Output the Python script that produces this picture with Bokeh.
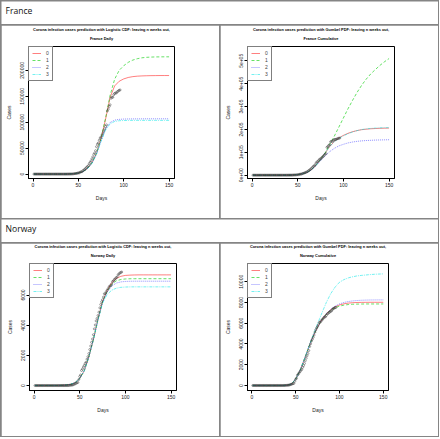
from bokeh.plotting import figure
from bokeh.layouts import column, row
from bokeh.models import Range1d, FixedTicker, Legend, LegendItem, Title, Label
from bokeh.embed import file_html
from bokeh.resources import INLINE

# ---------------- data ----------------
series_names = ["0", "1", "2", "3"]
x_ticks = [0, 50, 100, 150]
x_labels = ["0", "50", "100", "150"]

curve_days = [1, 5, 10, 15, 20, 25, 30, 35, 40, 45, 50, 55, 60, 65, 70, 75, 80,
              85, 90, 95, 100, 105, 110, 115, 120, 125, 130, 135, 140, 145, 150]
obs_days = list(range(1, 97))

france_obs = [0, 0, 2, 3, 3, 3, 4, 5, 5, 5,
              6, 6, 6, 6, 6, 6, 6, 11, 11, 11,
              11, 11, 11, 11, 12, 12, 12, 12, 12, 12,
              12, 12, 12, 12, 12, 18, 38, 57, 100, 130,
              191, 204, 288, 380, 656, 959, 1136, 1219, 1794, 2293,
              2293, 3681, 4496, 4532, 6683, 7715, 9124, 10970, 12758, 14463,
              16243, 20123, 22622, 25600, 29551, 33402, 38105, 40708, 45170, 52827,
              57749, 59929, 65202, 69500, 71412, 75343, 79163, 83057, 87366, 91738,
              94863, 121712, 125394, 130365, 133585, 146075, 148084, 148086, 153011, 155393,
              156480, 156480, 158952, 160034, 161558, 162220]

norway_obs = [0, 0, 0, 0, 0, 0, 0, 0, 0, 0,
              0, 0, 0, 0, 0, 0, 0, 0, 0, 0,
              0, 0, 0, 0, 0, 0, 0, 0, 0, 0,
              0, 0, 0, 0, 0, 1, 1, 6, 15, 19,
              25, 32, 56, 87, 108, 147, 176, 205, 400, 598,
              702, 996, 1090, 1221, 1333, 1463, 1550, 1746, 1914, 2118,
              2385, 2621, 2863, 3084, 3369, 3755, 4015, 4284, 4445, 4641,
              4863, 5147, 5370, 5550, 5687, 5865, 6086, 6086, 6211, 6314,
              6409, 6525, 6603, 6623, 6740, 6896, 6937, 7036, 7078, 7156,
              7191, 7338, 7401, 7463, 7499, 7527]

# France, Logistic CDF ("Daily")
fr_log_0 = [0, 0, 0, 0, 0, 10, 30, 90, 300, 800, 2000, 4800, 10500, 21500, 40000, 68000, 106000,
            148000, 170000, 179000, 183500, 186300, 187900, 188800, 189300, 189600, 189800, 189900, 190000, 190000, 190000]
fr_log_1 = [0, 0, 0, 0, 0, 10, 30, 90, 300, 800, 2000, 4800, 10500, 21500, 40000, 69000, 108000,
            152000, 183000, 200000, 209000, 215500, 219800, 222500, 224200, 225100, 225600, 225900, 226000, 226100, 226100]
fr_log_2 = [0, 0, 0, 0, 0, 10, 30, 90, 300, 800, 2000, 4800, 10500, 21000, 39000, 64000, 87000,
            99500, 104000, 105500, 106100, 106300, 106400, 106500, 106500, 106600, 106600, 106600, 106600, 106600, 106600]
fr_log_3 = [0, 0, 0, 0, 0, 10, 30, 90, 300, 800, 2000, 4800, 10500, 20800, 38500, 63000, 85000,
            97000, 101500, 102900, 103300, 103500, 103600, 103600, 103600, 103600, 103600, 103600, 103600, 103600, 103600]

# France, Gumbel ("Cumulative")
fr_gum_0 = [0, 0, 0, 0, 0, 0, 0, 50, 300, 1000, 2500, 6000, 12000, 24000, 43000, 68000, 97000,
            125000, 147000, 163000, 174000, 183000, 190000, 195000, 199000, 201000, 203000, 204000, 205000, 205500, 206000]
fr_gum_1 = [0, 0, 0, 0, 0, 0, 0, 50, 300, 1000, 2500, 6000, 12000, 24000, 43000, 68000, 97000,
            135000, 170000, 210000, 250000, 290000, 327000, 362000, 393000, 420000, 443000, 462000, 480000, 496000, 510000]
fr_gum_2 = [0, 0, 0, 0, 0, 0, 0, 50, 300, 1000, 2500, 6000, 12000, 23000, 41000, 63000, 84000,
            103000, 117000, 128000, 135000, 141000, 145000, 148000, 150000, 151500, 152500, 153500, 154000, 154500, 155000]
fr_gum_3 = [0, 0, 0, 0, 0, 0, 0, 50, 300, 1000, 2500, 6000, 12000, 24000, 43000, 68000, 97000,
            125000, 146000, 161000, 172000, 181000, 189000, 195000, 199500, 202500, 204500, 206000, 207000, 207500, 208000]

# Norway, Logistic CDF ("Daily")
no_log_0 = [0, 0, 0, 0, 0, 0, 10, 30, 80, 200, 460, 980, 1900, 3050, 4380, 5560, 6300,
            6810, 7100, 7240, 7300, 7320, 7330, 7335, 7335, 7335, 7335, 7335, 7335, 7335, 7335]
no_log_1 = [0, 0, 0, 0, 0, 0, 10, 30, 80, 200, 460, 980, 1900, 3050, 4380, 5550, 6250,
            6700, 6940, 7030, 7065, 7078, 7082, 7083, 7083, 7083, 7083, 7083, 7083, 7083, 7083]
no_log_2 = [0, 0, 0, 0, 0, 0, 10, 30, 80, 200, 460, 980, 1900, 3050, 4370, 5520, 6200,
            6590, 6790, 6870, 6900, 6912, 6917, 6917, 6917, 6917, 6917, 6917, 6917, 6917, 6917]
no_log_3 = [0, 0, 0, 0, 0, 0, 10, 30, 80, 200, 460, 980, 1900, 3040, 4330, 5450, 6030,
            6320, 6450, 6510, 6530, 6538, 6542, 6542, 6542, 6542, 6542, 6542, 6542, 6542, 6542]

# Norway, Gumbel ("Cumulative")
no_gum_0 = [0, 0, 0, 0, 0, 0, 0, 0, 20, 120, 620, 1450, 2550, 3700, 4750, 5650, 6350,
            6900, 7300, 7580, 7760, 7870, 7940, 7980, 8000, 8010, 8015, 8020, 8020, 8020, 8020]
no_gum_1 = [0, 0, 0, 0, 0, 0, 0, 0, 20, 120, 620, 1450, 2550, 3700, 4750, 5650, 6350,
            6880, 7250, 7500, 7650, 7740, 7800, 7830, 7845, 7852, 7858, 7858, 7858, 7858, 7858]
no_gum_2 = [0, 0, 0, 0, 0, 0, 0, 0, 20, 120, 620, 1450, 2550, 3700, 4750, 5650, 6350,
            6920, 7340, 7650, 7860, 8000, 8090, 8150, 8190, 8215, 8230, 8240, 8245, 8248, 8250]
no_gum_3 = [0, 0, 0, 0, 0, 0, 0, 0, 20, 120, 620, 1450, 2560, 3750, 4850, 5950, 7000,
            8000, 8850, 9480, 9950, 10200, 10370, 10480, 10560, 10610, 10650, 10690, 10720, 10740, 10757]

fr_daily_ticks = [0, 50000, 100000, 150000, 200000]
fr_daily_labels = ["0", "50000", "100000", "150000", "200000"]
fr_cum_ticks = [0, 100000, 200000, 300000, 400000, 500000]
fr_cum_labels = ["0e+00", "1e+05", "2e+05", "3e+05", "4e+05", "5e+05"]
no_daily_ticks = [0, 2000, 4000, 6000]
no_daily_labels = ["0", "2000", "4000", "6000"]
no_cum_ticks = [0, 2000, 4000, 6000, 8000, 10000]
no_cum_labels = ["0", "2000", "4000", "6000", "8000", "10000"]

title_log = "Corona infection cases prediction with Logistic CDF: leaving n weeks out,"
title_gum = "Corona infection cases prediction with Gumbel PDF: leaving n weeks out,"

# ---------------- style ----------------
COLORS = ["#ff0000", "#00cd00", "#0000ff", "#00e5e5"]
ALPHAS = [0.5, 0.6, 0.45, 0.55]
DASHES = ["solid", "3 2", "1 1", "3 1 1 1"]
RFONT = "Liberation Sans"
CELL_W = 218
CELL_H = 193
HEAD_H = 23
GRID = "#858585"


def make_panel(title1, title2, obs, curves, y_rng, y_ticks, y_labels, borders):
    bl, br, bt, bb = borders
    p = figure(width=CELL_W, height=CELL_H, output_backend="svg", toolbar_location=None,
               x_range=Range1d(-4.96, 155.96), y_range=Range1d(*y_rng),
               min_border_left=bl, min_border_right=br, min_border_top=bt, min_border_bottom=bb,
               background_fill_color="white", border_fill_color="white")
    p.grid.visible = False
    p.outline_line_color = "black"
    p.outline_line_width = 1

    p.title.text = title1
    sub = Title(text=title2)
    p.add_layout(sub, "above")
    for t in (p.title, sub):
        t.align = "center"
        t.text_font = RFONT
        t.text_font_size = "3.9px"
        t.text_font_style = "bold"
        t.text_color = "black"
        t.offset = 0
    p.title.standoff = -6
    sub.standoff = 11

    p.xaxis.ticker = FixedTicker(ticks=x_ticks)
    p.xaxis.major_label_overrides = dict(zip(x_ticks, x_labels))
    p.yaxis.ticker = FixedTicker(ticks=y_ticks)
    p.yaxis.major_label_overrides = dict(zip(y_ticks, y_labels))
    p.yaxis.major_label_orientation = "vertical"
    p.xaxis.axis_label = "Days"
    p.yaxis.axis_label = "Cases"
    for ax in p.axis:
        ax.axis_line_color = "black"
        ax.major_tick_line_color = "black"
        ax.minor_tick_line_color = None
        ax.major_tick_in = 0
        ax.major_tick_out = 3
        ax.major_label_text_font = RFONT
        ax.major_label_text_font_size = "5px"
        ax.major_label_text_color = "#222222"
        ax.axis_label_text_font = RFONT
        ax.axis_label_text_font_size = "5px"
        ax.axis_label_text_font_style = "normal"
        ax.axis_label_text_color = "#222222"
        ax.major_label_standoff = 1
    p.xaxis.axis_label_standoff = 5
    p.yaxis.axis_label_standoff = 6

    items = []
    for name, vals, col, alpha, dash in zip(series_names, curves, COLORS, ALPHAS, DASHES):
        r = p.line(curve_days, vals, line_color=col, line_width=1, line_alpha=alpha, line_dash=dash)
        items.append(LegendItem(label=name, renderers=[r]))
    p.scatter(obs_days, obs, marker="circle", size=2.0, fill_color=None,
              line_color="#333333", line_width=0.45)

    leg = Legend(items=items, location="top_left", margin=0, padding=3, spacing=1,
                 glyph_width=9, glyph_height=4, label_height=4, label_width=3,
                 label_standoff=5, label_text_font=RFONT, label_text_font_size="5px",
                 label_text_baseline="middle",
                 border_line_color="black", border_line_width=1, background_fill_color="white",
                 background_fill_alpha=1)
    p.add_layout(leg)
    return p


def make_header(text):
    w = 2 * CELL_W + 1
    h = figure(width=w, height=HEAD_H, output_backend="svg", toolbar_location=None, title=None,
               x_range=Range1d(0, w), y_range=Range1d(0, HEAD_H),
               x_axis_location=None, y_axis_location=None,
               min_border_left=0, min_border_right=0, min_border_top=0, min_border_bottom=0,
               background_fill_color="white", border_fill_color="white")
    h.grid.visible = False
    h.outline_line_color = None
    h.add_layout(Label(x=4, y=HEAD_H - 9.3, text=text, text_baseline="alphabetic",
                       text_align="left", text_font="Open Sans", text_font_size="8.6px",
                       text_color="#111111"))
    return h


p1 = make_panel(title_log, "France Daily", france_obs, [fr_log_0, fr_log_1, fr_log_2, fr_log_3],
                (-8500, 246000), fr_daily_ticks, fr_daily_labels, (27, 45, 21, 40))
p2 = make_panel(title_gum, "France Cumulative", france_obs, [fr_gum_0, fr_gum_1, fr_gum_2, fr_gum_3],
                (-14500, 562700), fr_cum_ticks, fr_cum_labels, (27, 44, 21, 40))
p3 = make_panel(title_log, "Norway Daily", norway_obs, [no_log_0, no_log_1, no_log_2, no_log_3],
                (-330, 8090), no_daily_ticks, no_daily_labels, (28, 43, 20, 38))
p4 = make_panel(title_gum, "Norway Cumulative", norway_obs, [no_gum_0, no_gum_1, no_gum_2, no_gum_3],
                (-483, 11758), no_cum_ticks, no_cum_labels, (27, 50, 20, 46))

layout = column(
    make_header("France"),
    row(p1, p2, spacing=1),
    make_header("Norway"),
    row(p3, p4, spacing=1),
    spacing=1,
    styles={"background-color": GRID, "padding": "1px"},
)

open("out.html", "w").write(file_html(layout, INLINE))
